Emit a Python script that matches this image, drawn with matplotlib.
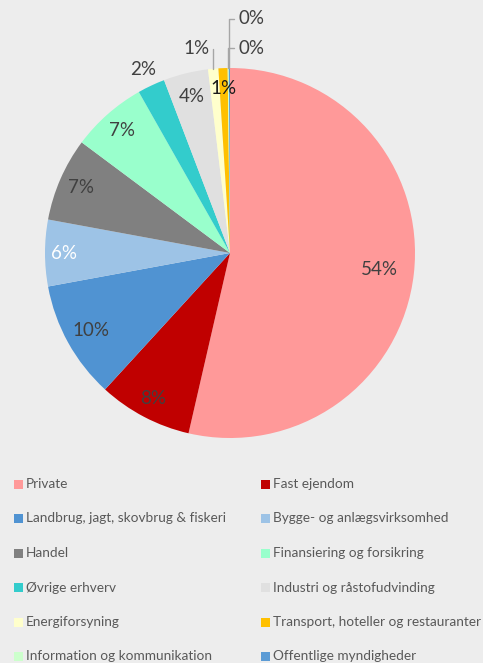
import numpy as np
import matplotlib.pyplot as plt
from matplotlib.patches import Rectangle

plt.rcParams['font.family'] = ['Lato', 'DejaVu Sans']

sectors = ['Private', 'Fast ejendom',
           'Landbrug, jagt, skovbrug & fiskeri', 'Bygge- og anlægsvirksomhed',
           'Handel', 'Finansiering og forsikring',
           'Øvrige erhverv', 'Industri og råstofudvinding',
           'Energiforsyning', 'Transport, hoteller og restauranter',
           'Information og kommunikation', 'Offentlige myndigheder']
shares = [53.6, 8.2, 10.3, 5.8, 7.3, 6.6, 2.4, 3.9, 0.9, 0.8, 0.1, 0.1]
colors = ['#FF9999', '#C00000', '#5093D2', '#9DC3E6', '#808080', '#99FFCC',
          '#33CCCC', '#E0E0E0', '#FFFFCC', '#FFC000', '#CCFFCC', '#5B9BD5']
label_text = ['54%', '8%', '10%', '6%', '7%', '7%', '2%', '4%', '1%', '1%', '0%', '0%']

bg = '#EDEDED'
fig = plt.figure(figsize=(4.83, 6.63), dpi=100, facecolor=bg)
ax = fig.add_axes([45 / 483, 1 - 438 / 663, 370 / 483, 370 / 663])
ax.set_facecolor(bg)

wedges, _ = ax.pie(shares, colors=colors, startangle=90, counterclock=False,
                   radius=1.0, wedgeprops=dict(linewidth=0))
ax.set_xlim(-1, 1)
ax.set_ylim(-1, 1)
ax.set_aspect('auto')
ax.axis('off')

# label placement (radius fraction) for the inside labels
inside_r = [0.81, 0.89, 0.86, 0.90, 0.88, 0.88, None, 0.87, None, 0.89, None, None]
label_colors = ['#404040'] * 12
label_colors[3] = 'white'
label_colors[9] = '#1A1A1A'

for i, w in enumerate(wedges):
    mid = np.deg2rad((w.theta1 + w.theta2) / 2)
    edge = (np.cos(mid), np.sin(mid))
    if inside_r[i] is not None:
        r = inside_r[i]
        ax.text(r * edge[0], r * edge[1], label_text[i], ha='center', va='center',
                fontsize=13.5, color=label_colors[i])

# outside labels
ax.text(-0.47, 0.99, label_text[6], ha='center', va='center', fontsize=13.5, color='#404040')

lead = dict(arrowstyle='-', color='#A6A6A6', lw=1.0, shrinkA=1, shrinkB=0,
            connectionstyle='angle,angleA=0,angleB=90')
mid = np.deg2rad((wedges[8].theta1 + wedges[8].theta2) / 2)
ax.annotate(label_text[8], xy=(np.cos(mid), np.sin(mid)), xytext=(-0.11, 1.108),
            ha='right', va='center', fontsize=13.5, color='#404040',
            arrowprops=dict(lead, relpos=(1, 0.5)), annotation_clip=False)
for i, ty in [(10, 1.108), (11, 1.266)]:
    mid = np.deg2rad((wedges[i].theta1 + wedges[i].theta2) / 2)
    ax.annotate(label_text[i], xy=(np.cos(mid), np.sin(mid)), xytext=(0.045, ty),
                ha='left', va='center', fontsize=13.5, color='#404040',
                arrowprops=dict(lead, relpos=(0, 0.5)), annotation_clip=False)

# legend, two columns filled row by row
W, H = 483, 663
for i, (name, c) in enumerate(zip(sectors, colors)):
    row, col = divmod(i, 2)
    x0 = 14 if col == 0 else 261
    yc = 484 + row * 34.5
    fig.patches.append(Rectangle((x0 / W, 1 - (yc + 4.5) / H), 9 / W, 9 / H,
                                 transform=fig.transFigure, facecolor=c, edgecolor='none'))
    fig.text((x0 + 12) / W, 1 - yc / H, name, ha='left', va='center',
             fontsize=9.8, color='#595959')

fig.savefig('out.png', dpi=100, facecolor=bg)
